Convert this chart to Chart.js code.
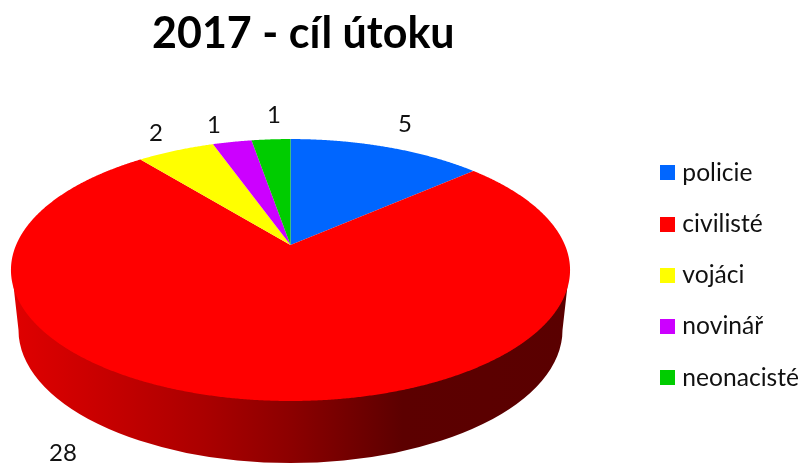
<!DOCTYPE html>
<html>
<head>
<meta charset="utf-8">
<title>2017 - cíl útoku</title>
<script src="https://cdn.jsdelivr.net/npm/chart.js@4/dist/chart.umd.min.js"></script>
<style>
  html, body { margin: 0; padding: 0; background: #fff; }
  canvas { display: block; }
</style>
</head>
<body>
<canvas id="pie" width="802" height="464"></canvas>
<script>
const categories = ['policie', 'civilisté', 'vojáci', 'novinář', 'neonacisté'];
const counts = [5, 28, 2, 1, 1];
const sliceColors = ['#0066ff', '#ff0000', '#ffff00', '#cc00ff', '#00cc00'];
const chartTitle = '2017 - cíl útoku';

// the tilted disc: apex on screen and the perspective that gives the picture's ellipse
const apex = { x: 290.5, y: 245 };
const persp = { a: 274.4, b: 126.2, k: 0.191 };
// lower rim of the disc, the wall sits between it and the top face
const rim = { x: 290.5, y: 330, rx: 272, ry: 133 };
const labelSpots = [[405, 124], [63, 453], [156, 133], [214, 125], [274, 115]];

function project(angle) {
  const u = Math.cos(angle);
  const v = -Math.sin(angle);
  const d = 1 + persp.k * v;
  return { x: apex.x + persp.a * u / d, y: apex.y - persp.b * v / d };
}

// legend marker as an image, the text sits closer to it than the default box allows
function legendSwatch(color) {
  const c = document.createElement('canvas');
  c.width = 15;
  c.height = 15;
  const g = c.getContext('2d');
  g.fillStyle = color;
  g.fillRect(0, 0, 15, 15);
  return c;
}

const tiltedPie = {
  id: 'tiltedPie',
  beforeDatasetsDraw(chart) {
    const ctx = chart.ctx;
    const arcs = chart.getDatasetMeta(0).data;

    // wall
    const wall = ctx.createLinearGradient(12, 0, 570, 0);
    wall.addColorStop(0, '#e00000');
    wall.addColorStop(0.16, '#c80000');
    wall.addColorStop(0.34, '#ab0000');
    wall.addColorStop(0.5, '#8c0000');
    wall.addColorStop(0.7, '#5c0000');
    wall.addColorStop(1, '#5a0000');
    ctx.save();
    ctx.beginPath();
    ctx.moveTo(11.5, 268);
    ctx.lineTo(rim.x - rim.rx, rim.y);
    ctx.ellipse(rim.x, rim.y, rim.rx, rim.ry, 0, Math.PI, 0, true);
    ctx.lineTo(569.5, 268);
    ctx.closePath();
    ctx.fillStyle = wall;
    ctx.fill();

    // top face, angles come from the pie controller
    arcs.forEach((arc, i) => {
      ctx.beginPath();
      ctx.moveTo(apex.x, apex.y);
      for (let a = arc.startAngle; a < arc.endAngle; a += 0.005) {
        const p = project(a);
        ctx.lineTo(p.x, p.y);
      }
      const end = project(arc.endAngle);
      ctx.lineTo(end.x, end.y);
      ctx.closePath();
      ctx.fillStyle = sliceColors[i];
      ctx.fill();
    });
    ctx.restore();
    return false;
  },
  afterDraw(chart) {
    const ctx = chart.ctx;
    ctx.save();
    ctx.font = '24px Lato';
    ctx.fillStyle = '#111';
    ctx.textAlign = 'center';
    ctx.textBaseline = 'middle';
    counts.forEach((n, i) => {
      ctx.fillText(String(n), labelSpots[i][0], labelSpots[i][1]);
    });
    ctx.restore();
  }
};

new Chart(document.getElementById('pie'), {
  type: 'pie',
  data: {
    labels: categories,
    datasets: [{ data: counts, backgroundColor: sliceColors, borderWidth: 0 }]
  },
  plugins: [tiltedPie],
  options: {
    responsive: false,
    animation: false,
    layout: { padding: { left: 152, right: -7, top: 8, bottom: 0 } },
    plugins: {
      tooltip: { enabled: false },
      title: {
        display: true,
        text: chartTitle,
        align: 'start',
        color: '#000',
        font: { family: 'Lato', size: 43, weight: 'bold' },
        padding: { top: 0, bottom: 27 }
      },
      legend: {
        position: 'right',
        align: 'center',
        fullSize: false,
        labels: {
          usePointStyle: true,
          pointStyleWidth: 5,
          boxHeight: 15,
          padding: 26.6,
          color: '#111',
          font: { family: 'Lato', size: 24.6 },
          generateLabels(chart) {
            return categories.map((name, i) => ({
              text: name,
              index: i,
              fontColor: '#111',
              pointStyle: legendSwatch(sliceColors[i])
            }));
          }
        }
      }
    }
  }
});
</script>
</body>
</html>
